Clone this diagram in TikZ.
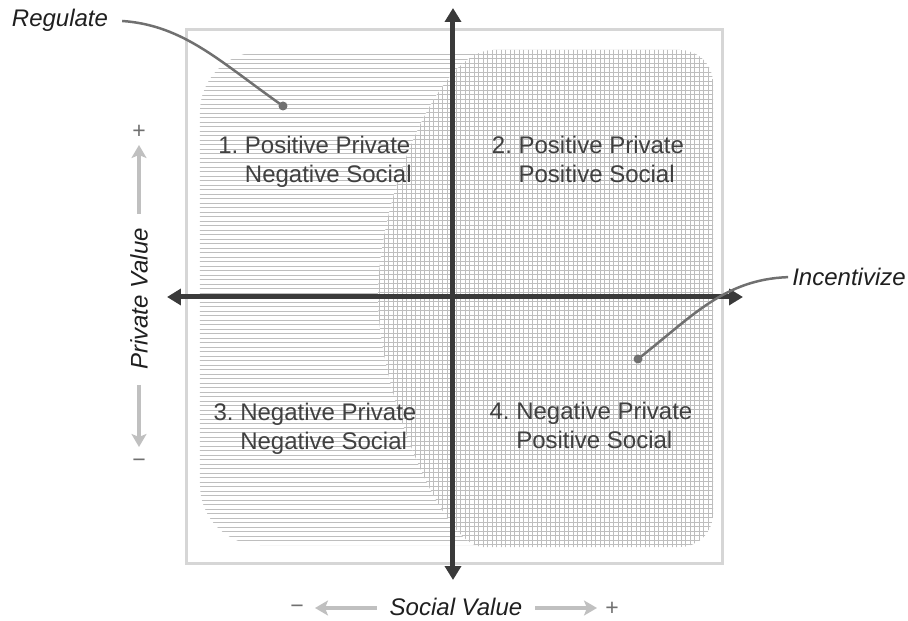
\documentclass[tikz,border=0pt]{standalone}
\usepackage{fontspec}
\setmainfont{Liberation Sans}
\usetikzlibrary{arrows.meta, positioning}

\definecolor{axisgray}{HTML}{3A3A3A}
\definecolor{framegray}{HTML}{D6D6D6}
\definecolor{hatchgray}{HTML}{BEBEBE}
\definecolor{hintgray}{HTML}{C0C0C0}
\definecolor{textgray}{HTML}{404040}
\definecolor{leadgray}{HTML}{707070}

\tikzset{
  axis/.style={draw=axisgray, line width=5pt,
    {Triangle[length=14pt,width=16pt]}-{Triangle[length=14pt,width=16pt]}},
  hint/.style={draw=hintgray, line width=3.5pt,
    -{Stealth[length=13pt,width=15pt,inset=3pt]}},
  quadtext/.style={text=textgray, font=\fontsize{24}{29}\selectfont, inner sep=0pt},
  axislabel/.style={text=black!88, font=\fontsize{24}{29}\selectfont\itshape, inner sep=0pt},
  signlabel/.style={text=leadgray, font=\fontsize{23}{27}\selectfont, inner sep=0pt},
  leader/.style={draw=leadgray, line width=2.5pt},
  dot/.style={circle, fill=leadgray, inner sep=0pt, minimum size=9pt},
  hatch/.style={draw=hatchgray, line width=0.85pt},
}

% outline of the shaded zone on the right (positive social value)
\newcommand{\gridzone}{(40,247) -- (227,247) arc[start angle=90, end angle=0, radius=33]
  -- (260,-217) arc[start angle=0, end angle=-90, radius=33] -- (30,-250)
  .. controls (-10,-250) and (-75,-95) .. (-75,0)
  .. controls (-75,100) and (-15,247) .. (40,247) -- cycle}

\begin{document}
\begin{tikzpicture}[x=1pt, y=1pt]
    \useasboundingbox (-453,-324) rectangle (455,297);

    % =========================================================================
    % FRAME AND SHADED ZONES
    % =========================================================================
    \draw[framegray, line width=3pt] (-266,-266) rectangle (269,267);

    % Left zone: horizontal lines
    \begin{scope}
        \clip[rounded corners=60pt] (100,245) -- (-253,245) -- (-253,-248) -- (100,-248) -- cycle;
        \foreach \y in {-248,-243.5,...,246}
            \draw[hatch] (-260,\y) -- (110,\y);
    \end{scope}

    % Right zone: grid
    \fill[white] \gridzone;
    \begin{scope}
        \clip \gridzone;
        \foreach \y in {-252,-247.5,...,250}
            \draw[hatch] (-80,\y) -- (265,\y);
        \foreach \x in {-78,-73.5,...,262}
            \draw[hatch] (\x,-255) -- (\x,250);
    \end{scope}

    % =========================================================================
    % AXES
    % =========================================================================
    \coordinate (north) at (0,289);
    \coordinate (south) at (0,-283);
    \coordinate (west) at (-286,0);
    \coordinate (east) at (290,0);

    \draw[axis] (south) -- (north);
    \draw[axis] (west) -- (east);

    % =========================================================================
    % QUADRANT LABELS
    % =========================================================================
    \node[quadtext] (q1) at (-138,135)
        {\begin{tabular}{@{}r@{}l@{}}1.~ & Positive Private\\ & Negative Social\end{tabular}};
    \node[quadtext] (q2) at (135,135)
        {\begin{tabular}{@{}r@{}l@{}}2.~ & Positive Private\\ & Positive Social\end{tabular}};
    \node[quadtext] (q3) at (-138,-132)
        {\begin{tabular}{@{}r@{}l@{}}3.~ & Negative Private\\ & Negative Social\end{tabular}};
    \node[quadtext] (q4) at (138,-131)
        {\begin{tabular}{@{}r@{}l@{}}4.~ & Negative Private\\ & Positive Social\end{tabular}};

    % =========================================================================
    % CALLOUTS
    % =========================================================================
    \node[axislabel] (regulate) at (-393,277) {Regulate};
    \node[dot] (regdot) at (-170,191) {};
    \draw[leader, shorten <=14pt] (regulate.east) to[out=-4, in=145] (regdot.center);

    \node[axislabel] (incent) at (396,20) {Incentivize};
    \node[dot] (incdot) at (185,-62) {};
    \draw[leader, shorten <=4pt] (incent.west) to[out=182, in=38] (incdot.center);

    % =========================================================================
    % AXIS TITLES
    % =========================================================================
    % Private value (left, reads upwards)
    \node[axislabel, rotate=90] (privval) at (-314,-2) {Private Value};
    \node[signlabel] (pvplus) at (-314,165) {+};
    \node[signlabel] (pvminus) at (-314,-166) {−};
    \coordinate (pvuptail) at (-314,83);
    \coordinate (pvuptip) at (-314,152);
    \coordinate (pvdowntail) at (-314,-88);
    \coordinate (pvdowntip) at (-314,-150);
    \draw[hint] (pvuptail) -- (pvuptip);
    \draw[hint] (pvdowntail) -- (pvdowntip);

    % Social value (bottom)
    \node[axislabel] (socval) at (3,-310) {Social Value};
    \node[signlabel] (svminus) at (-156,-312) {−};
    \node[signlabel] (svplus) at (159,-312) {+};
    \coordinate (svlefttail) at (-76,-311);
    \coordinate (svlefttip) at (-138,-311);
    \coordinate (svrighttail) at (82,-311);
    \coordinate (svrighttip) at (144,-311);
    \draw[hint] (svlefttail) -- (svlefttip);
    \draw[hint] (svrighttail) -- (svrighttip);

\end{tikzpicture}
\end{document}
